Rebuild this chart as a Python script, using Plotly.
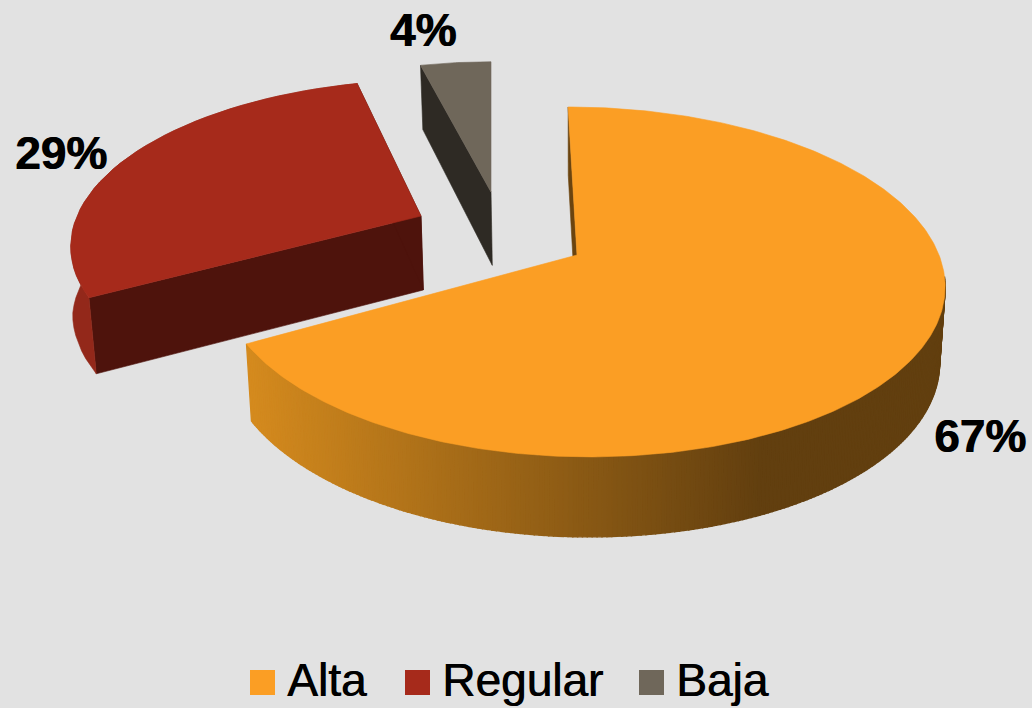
import math
import plotly.graph_objects as go

# ---- data -------------------------------------------------------------
categories = ["Alta", "Regular", "Baja"]
values = [67, 29, 4]
pct_labels = ["67%", "29%", "4%"]

# ---- style ------------------------------------------------------------
top_colors = ["#FB9E24", "#A62A1B", "#6F675A"]
edge_colors = ["#6B440F", "#4E130C", "#2E2A24"]
rim_colors = [None, "#93281A", "#2E2A24"]
BG = "#E2E2E2"
FONT = "Liberation Sans"

# ---- view geometry (pixel space of the 1032x708 page) -------------------
FAR = 0.154
RX, RY = 362.0, 170.8
CX = 577.0
slice_view = [  # apex x, apex y, x scale, y scale, shear, left-side x factor
    (577.0, 255.0, 1.00, 1.00, 0.06, 0.98),
    (421.0, 216.0, 0.95, 0.92, -0.08, 1.0),
    (491.0, 192.0, 0.90, 0.88, 0.0, 1.0),
]
draw_order = [1, 2, 0]
label_pos = [(980, 440), (61, 157), (423, 34)]
legend_square_x = [262.5, 417.5, 651.5]
legend_text_x = [287, 442, 676]
LEGEND_Y = 684


def rim(theta_deg, view):
    ax, ay, sx, sy, sh, lf = view
    t = math.radians(theta_deg)
    u, v = math.sin(t), math.cos(t)
    if u < 0:
        u *= lf
    w = 1 + FAR * v
    dy = -RY * v / w * sy
    dx = RX * u / w * sx + sh * dy
    return ax + dx, ay + dy


def lower(p):
    x, y = p
    return CX + (x - CX) * 0.985, y + 80 - 0.025 * (457 - y) - 0.07 * max(150 - y, 0)


def poly(fig, pts, color, width=0.6):
    xs = [p[0] for p in pts] + [pts[0][0]]
    ys = [p[1] for p in pts] + [pts[0][1]]
    fig.add_trace(go.Scatter(x=xs, y=ys, mode="lines", fill="toself", fillcolor=color,
                             line=dict(color=color, width=width), hoverinfo="skip",
                             showlegend=False))


def mix(x):
    # wall shading of the large slice: light on the left, dark to the right
    a, b = (212, 138, 30), (98, 63, 15)
    f = min(max((x - 250) / 510, 0), 1)
    return "rgb(%d,%d,%d)" % tuple(round(a[i] + (b[i] - a[i]) * f) for i in range(3))


total = sum(values)
spans = []
start = 0.0
for val in values:
    spans.append((start, start + 360.0 * val / total))
    start = spans[-1][1]

fig = go.Figure()
for i in draw_order:
    a0, a1 = spans[i]
    view = slice_view[i]
    apex = (view[0], view[1])
    n = 360 if i == 0 else 40
    angles = [a0 + (a1 - a0) * k / n for k in range(n + 1)]
    arc = [rim(a, view) for a in angles]
    # radial walls
    poly(fig, [apex, arc[0], lower(arc[0]), lower(apex)], edge_colors[i])
    if i == 1:
        poly(fig, [apex, arc[-1], lower(arc[-1]), lower(apex)], edge_colors[i])
    if i == 0:
        # outer wall: many narrow strips for a smooth shade
        for k in range(n):
            if angles[k] < 97:
                continue
            p, q = arc[k], arc[k + 1]
            poly(fig, [p, q, lower(q), lower(p)], mix((p[0] + q[0]) / 2), width=1.4)
    elif i == 1:
        lo = []
        for p in arc:
            lx, ly = lower(p)
            t = min(max((p[1] - 240) / 57, 0), 1)
            lo.append((lx - 6 * (1 - t), ly))
        poly(fig, arc + lo[::-1], rim_colors[i])
    # top face
    poly(fig, [apex] + arc, top_colors[i])

# percentage labels
fig.add_trace(go.Scatter(x=[p[0] for p in label_pos], y=[p[1] for p in label_pos],
                         mode="text", text=pct_labels, textposition="middle center",
                         textfont=dict(family=FONT, size=46, color="#000000", weight="bold",
                                       shadow="0.8px 0 0 #000000"),
                         hoverinfo="skip", showlegend=False))

# legend
fig.add_trace(go.Scatter(x=legend_square_x, y=[682.5] * 3, mode="markers",
                         marker=dict(symbol="square", size=25, color=top_colors),
                         hoverinfo="skip", showlegend=False))
fig.add_trace(go.Scatter(x=legend_text_x, y=[LEGEND_Y] * 3, mode="text", text=categories,
                         textposition="middle right",
                         textfont=dict(family=FONT, size=46, color="#000000",
                                       shadow="0.8px 0 0 #000000"),
                         hoverinfo="skip", showlegend=False))

fig.update_layout(
    width=1032, height=708, margin=dict(l=0, r=0, t=0, b=0),
    paper_bgcolor=BG, plot_bgcolor=BG,
    xaxis=dict(range=[0, 1032], visible=False, fixedrange=True),
    yaxis=dict(range=[708, 0], visible=False, fixedrange=True),
)
fig.write_html("out.html", config={"displayModeBar": False},
               post_script="document.body.style.margin='0';document.body.style.background='#E2E2E2';document.body.style.overflow='hidden';")
